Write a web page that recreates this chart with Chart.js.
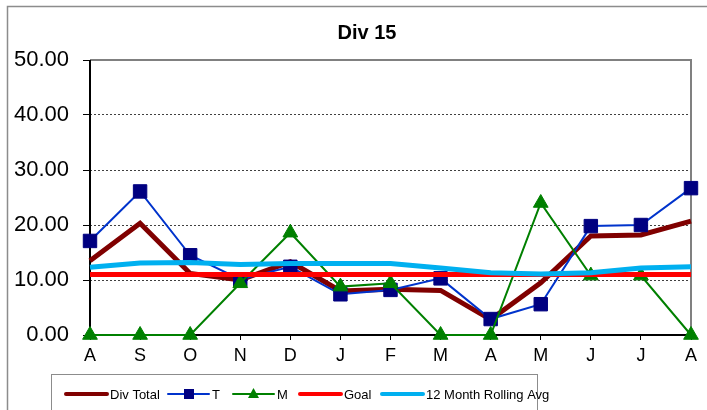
<!DOCTYPE html>
<html lang="en">
<head>
    <meta charset="UTF-8">
    <title>Div 15</title>
    <script src="https://cdn.jsdelivr.net/npm/chart.js"></script>
    <style>
        body {
            margin: 0;
            background: #ffffff;
        }

        .chart-box {
            width: 707px;
            height: 410px;
        }
    </style>
</head>
<body>
    <div class="chart-box">
        <canvas id="divChart" width="707" height="410"></canvas>
    </div>

    <script>
        const months = ['A', 'S', 'O', 'N', 'D', 'J', 'F', 'M', 'A', 'M', 'J', 'J', 'A'];
        const divTotal = [13.5, 20.3, 11.2, 10.0, 13.3, 8.0, 8.3, 8.1, 2.8, 9.5, 18.0, 18.2, 20.7];
        const tValues = [17.1, 26.1, 14.5, 10.1, 12.4, 7.4, 8.2, 10.3, 2.9, 5.6, 19.8, 20.0, 26.7];
        const mValues = [0, 0, 0, 9.4, 18.6, 8.8, 9.4, 0, 0, 24.0, 10.8, 10.8, 0];
        const goal = [11, 11, 11, 11, 11, 11, 11, 11, 11, 11, 11, 11, 11];
        const rollingAvg = [12.3, 13.1, 13.2, 12.8, 13.0, 13.0, 13.0, 12.2, 11.3, 11.1, 11.3, 12.2, 12.4];
        const yTicks = [0, 10, 20, 30, 40, 50];

        const legendFont = '13px "Liberation Sans Narrow", "Arial Narrow", Arial, sans-serif';

        // frame around the whole chart and the plot area, plus the two black axes
        const framePlugin = {
            id: 'frame',
            beforeDraw(chart) {
                const ctx = chart.ctx;
                ctx.save();
                ctx.fillStyle = '#ffffff';
                ctx.fillRect(0, 0, chart.width, chart.height);
                ctx.strokeStyle = '#8c8c8c';
                ctx.lineWidth = 1.5;
                ctx.strokeRect(7.5, 6.5, chart.width + 10, chart.height + 10);
                ctx.restore();
            },
            beforeDatasetsDraw(chart) {
                const { ctx, chartArea: a } = chart;
                ctx.save();
                ctx.strokeStyle = '#808080';
                ctx.lineWidth = 2;
                ctx.beginPath();
                ctx.moveTo(a.left, a.top);
                ctx.lineTo(a.right, a.top);
                ctx.lineTo(a.right, a.bottom);
                ctx.stroke();
                ctx.strokeStyle = '#000000';
                ctx.beginPath();
                ctx.moveTo(a.left, a.top);
                ctx.lineTo(a.left, a.bottom);
                ctx.lineTo(a.right, a.bottom);
                ctx.stroke();
                ctx.restore();
            },
            afterDraw(chart) {
                const ctx = chart.ctx;
                ctx.save();

                // title
                ctx.fillStyle = '#000000';
                ctx.font = 'bold 20px Arial, "Liberation Sans", sans-serif';
                ctx.textAlign = 'center';
                ctx.textBaseline = 'middle';
                ctx.fillText('Div 15', 367, 33);

                // legend box
                ctx.strokeStyle = '#8c8c8c';
                ctx.lineWidth = 1;
                ctx.strokeRect(51.5, 374.5, 486, 50);

                const entries = [
                    { x: 66, ds: 0 },
                    { x: 168, ds: 1 },
                    { x: 233, ds: 2 },
                    { x: 300, ds: 3 },
                    { x: 382, ds: 4 }
                ];
                const y = 394;
                ctx.font = legendFont;
                ctx.textAlign = 'left';
                entries.forEach(e => {
                    const ds = chart.data.datasets[e.ds];
                    ctx.strokeStyle = ds.borderColor;
                    ctx.lineWidth = ds.legendWidth;
                    ctx.lineCap = 'round';
                    ctx.beginPath();
                    ctx.moveTo(e.x, y);
                    ctx.lineTo(e.x + 41, y);
                    ctx.stroke();
                    if (ds.pointStyle === 'rect') {
                        ctx.fillStyle = ds.pointBackgroundColor;
                        ctx.fillRect(e.x + 16, y - 5, 10, 10);
                    } else if (ds.pointStyle === 'triangle') {
                        ctx.fillStyle = ds.pointBackgroundColor;
                        ctx.beginPath();
                        ctx.moveTo(e.x + 20.5, y - 6);
                        ctx.lineTo(e.x + 26, y + 4);
                        ctx.lineTo(e.x + 15, y + 4);
                        ctx.closePath();
                        ctx.fill();
                    }
                    ctx.fillStyle = '#000000';
                    ctx.fillText(ds.label, e.x + 44, y + 1);
                });
                ctx.restore();
            }
        };

        const ctx = document.getElementById('divChart').getContext('2d');
        new Chart(ctx, {
            type: 'line',
            data: {
                labels: months,
                datasets: [{
                    label: 'Div Total',
                    data: divTotal,
                    borderColor: '#800000',
                    borderWidth: 5,
                    legendWidth: 4,
                    pointRadius: 0,
                    tension: 0,
                    clip: false,
                    order: 5
                }, {
                    label: 'T',
                    data: tValues,
                    borderColor: '#0033cc',
                    borderWidth: 2,
                    legendWidth: 2,
                    pointStyle: 'rect',
                    pointRadius: 9.5,
                    pointBackgroundColor: '#000080',
                    pointBorderColor: '#000080',
                    pointBorderWidth: 1,
                    tension: 0,
                    clip: false,
                    order: 4
                }, {
                    label: 'M',
                    data: mValues,
                    borderColor: '#008000',
                    borderWidth: 2,
                    legendWidth: 2,
                    pointStyle: 'triangle',
                    pointRadius: 8.5,
                    pointBackgroundColor: '#008000',
                    pointBorderColor: '#008000',
                    pointBorderWidth: 1,
                    tension: 0,
                    clip: false,
                    order: 3
                }, {
                    label: 'Goal',
                    data: goal,
                    borderColor: '#ff0000',
                    borderWidth: 5,
                    legendWidth: 4,
                    pointRadius: 0,
                    tension: 0,
                    clip: false,
                    order: 2
                }, {
                    label: '12 Month Rolling Avg',
                    data: rollingAvg,
                    borderColor: '#00b0f0',
                    borderWidth: 5,
                    legendWidth: 4,
                    pointRadius: 0,
                    tension: 0,
                    clip: false,
                    order: 1
                }]
            },
            options: {
                responsive: false,
                animation: false,
                devicePixelRatio: 1,
                layout: {
                    padding: { top: 60, right: 16, left: 0, bottom: 0 }
                },
                plugins: {
                    legend: { display: false },
                    title: { display: false },
                    tooltip: { enabled: false }
                },
                scales: {
                    x: {
                        offset: false,
                        afterFit: s => { s.height = 75; },
                        grid: {
                            drawOnChartArea: false,
                            color: '#000000',
                            tickColor: '#000000',
                            tickLength: 5
                        },
                        border: { display: false },
                        ticks: {
                            color: '#000000',
                            padding: 5,
                            maxRotation: 0,
                            autoSkip: false,
                            font: { family: 'Arial, "Liberation Sans", sans-serif', size: 18 }
                        }
                    },
                    y: {
                        min: 0,
                        max: 50,
                        afterFit: s => { s.width = 90; },
                        afterBuildTicks: s => { s.ticks = yTicks.map(v => ({ value: v })); },
                        grid: {
                            color: c => (c.tick && (c.tick.value === 0 || c.tick.value === 50)) ? 'rgba(0,0,0,0)' : '#404040',
                            lineWidth: 1,
                            tickColor: '#000000',
                            tickLength: 7
                        },
                        border: { display: false, dash: [2, 2] },
                        ticks: {
                            color: '#000000',
                            padding: 14,
                            callback: v => Number(v).toFixed(2),
                            font: { family: 'Arial, "Liberation Sans", sans-serif', size: 22 }
                        }
                    }
                }
            },
            plugins: [framePlugin]
        });
    </script>
</body>
</html>
